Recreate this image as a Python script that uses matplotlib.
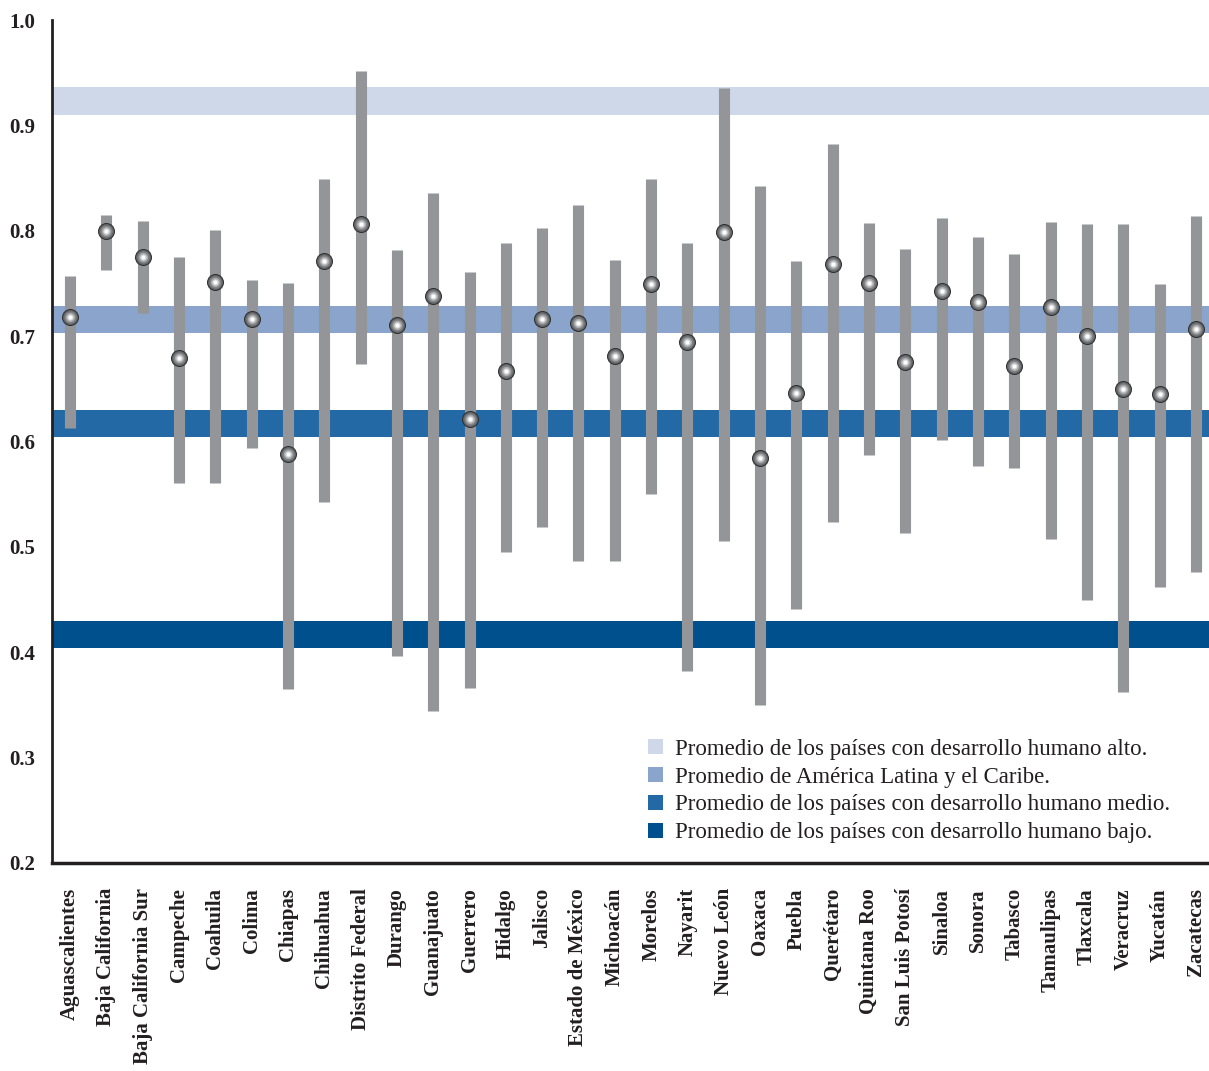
import matplotlib
matplotlib.use("Agg")
import matplotlib.pyplot as plt
from matplotlib.patches import Patch

plt.rcParams['font.family'] = ['Liberation Serif', 'DejaVu Serif']

# states and their index range (low, point, high)
states = ["Aguascalientes", "Baja California", "Baja California Sur", "Campeche",
          "Coahuila", "Colima", "Chiapas", "Chihuahua", "Distrito Federal",
          "Durango", "Guanajuato", "Guerrero", "Hidalgo", "Jalisco",
          "Estado de México", "Michoacán", "Morelos", "Nayarit", "Nuevo León",
          "Oaxaca", "Puebla", "Querétaro", "Quintana Roo", "San Luis Potosí",
          "Sinaloa", "Sonora", "Tabasco", "Tamaulipas", "Tlaxcala", "Veracruz",
          "Yucatán", "Zacatecas"]
high = [0.757, 0.815, 0.809, 0.775, 0.801, 0.753, 0.750, 0.849, 0.952, 0.782,
        0.836, 0.761, 0.788, 0.803, 0.824, 0.772, 0.849, 0.788, 0.935, 0.842,
        0.771, 0.882, 0.807, 0.783, 0.812, 0.794, 0.778, 0.808, 0.806, 0.806,
        0.749, 0.814]
point = [0.718, 0.800, 0.775, 0.679, 0.751, 0.716, 0.588, 0.771, 0.806, 0.711,
         0.738, 0.621, 0.667, 0.716, 0.712, 0.681, 0.749, 0.694, 0.799, 0.584,
         0.646, 0.768, 0.750, 0.675, 0.743, 0.732, 0.672, 0.728, 0.700, 0.650,
         0.645, 0.707]
low = [0.613, 0.763, 0.722, 0.561, 0.561, 0.594, 0.365, 0.543, 0.674, 0.396,
       0.344, 0.366, 0.495, 0.519, 0.487, 0.487, 0.550, 0.382, 0.506, 0.350,
       0.441, 0.524, 0.587, 0.513, 0.601, 0.577, 0.575, 0.507, 0.450, 0.362,
       0.462, 0.476]

# reference averages
ref_labels = ["Promedio de los países con desarrollo humano alto.",
              "Promedio de América Latina y el Caribe.",
              "Promedio de los países con desarrollo humano medio.",
              "Promedio de los países con desarrollo humano bajo."]
ref_values = [0.923, 0.716, 0.617, 0.417]
ref_colors = ["#cfd8e9", "#8aa4cb", "#2369a5", "#00508e"]

fig = plt.figure(figsize=(12.09, 10.71), dpi=100)
ax = fig.add_axes([52/1209, 208/1071, 1 - 52/1209, (863-20)/1071])

half = 0.013
for v, c in zip(ref_values, ref_colors):
    ax.axhspan(v - half, v + half, color=c, lw=0, zorder=1)

x = list(range(len(states)))
ax.vlines(x, low, high, color="#939598", lw=8, zorder=2)

# fake sphere look with layered circles
shades = [(150, "#2e2e2e"), (118, "#5f6063"), (80, "#7f8083"), (45, "#a9aaac"),
          (20, "#dcdcdc"), (7, "#ffffff")]
for s, c in shades:
    ax.scatter(x, point, s=s, color=c, lw=0, zorder=3)

ax.set_xlim(-0.496, 31.36)
ax.set_ylim(0.2, 1.0)
ax.set_yticks([0.2, 0.3, 0.4, 0.5, 0.6, 0.7, 0.8, 0.9, 1.0])
ax.set_yticklabels(["0.2", "0.3", "0.4", "0.5", "0.6", "0.7", "0.8", "0.9", "1.0"],
                   fontsize=15, fontweight="bold", color="#231f20")
ax.set_xticks(x)
ax.set_xticklabels(states, rotation=90, fontsize=15, fontweight="bold", color="#231f20")
ax.tick_params(axis="both", length=0)
ax.tick_params(axis="x", pad=18)
ax.tick_params(axis="y", pad=12)

for side in ["top", "right"]:
    ax.spines[side].set_visible(False)
ax.spines["left"].set_linewidth(2)
ax.spines["bottom"].set_linewidth(2.5)
ax.spines["left"].set_color("#231f20")
ax.spines["bottom"].set_color("#231f20")

handles = [Patch(facecolor=c, edgecolor="none", label=l) for c, l in zip(ref_colors, ref_labels)]
leg = fig.legend(handles=handles, loc="upper left", bbox_to_anchor=(627/1209, 1 - 718/1071),
                 frameon=False, handlelength=0.65, handleheight=0.65, handletextpad=0.55,
                 labelspacing=0.3, prop={"size": 16.5})
for t in leg.get_texts():
    t.set_color("#231f20")

plt.savefig("out.png", dpi=100)
